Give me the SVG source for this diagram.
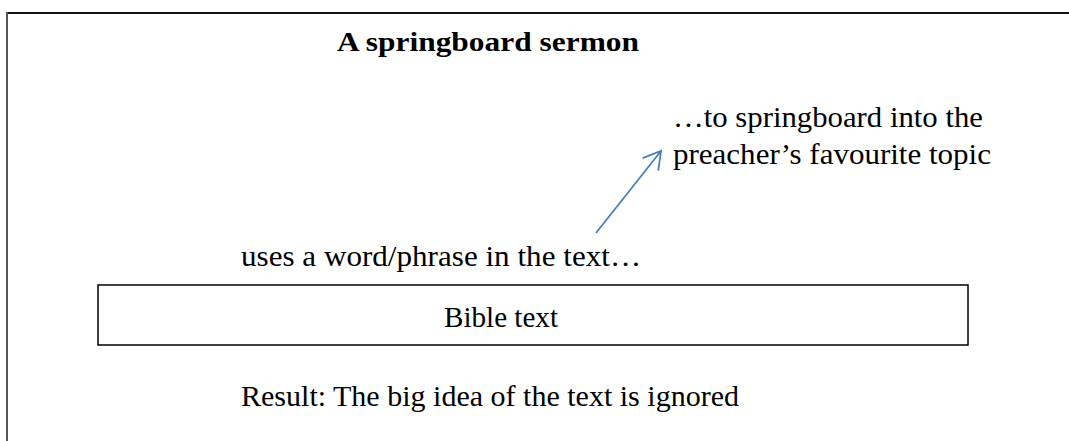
<svg xmlns="http://www.w3.org/2000/svg" width="1069" height="441" viewBox="0 0 1069 441">
<defs>
<style>
.t{font-family:"Liberation Serif","Times New Roman",serif;font-size:29px;fill:#000}
.b{font-weight:bold;font-size:27px}
</style>
<marker id="ah" viewBox="0 0 20 22" refX="18" refY="11" markerWidth="20" markerHeight="22" markerUnits="userSpaceOnUse" orient="auto">
<path d="M1,1 L18,11 L1,21" fill="none" stroke="#4a7ebb" stroke-width="1.8"/>
</marker>
</defs>
<rect width="1069" height="441" fill="#fff"/>
<g id="frame">
<line x1="7" y1="13" x2="1069" y2="13" stroke="#111" stroke-width="2"/>
<line x1="7" y1="12" x2="7" y2="441" stroke="#555" stroke-width="2"/>
</g>
<g id="title">
<text class="t b" x="337" y="51" textLength="302" lengthAdjust="spacingAndGlyphs">A springboard sermon</text>
</g>
<g id="target">
<text class="t" x="673" y="127" textLength="310" lengthAdjust="spacingAndGlyphs">…to springboard into the</text>
<text class="t" x="673" y="164" textLength="318" lengthAdjust="spacingAndGlyphs">preacher’s favourite topic</text>
</g>
<g id="source">
<text class="t" x="241" y="266" textLength="400" lengthAdjust="spacingAndGlyphs">uses a word/phrase in the text…</text>
</g>
<g id="bible">
<rect x="98" y="285" width="870" height="60" fill="#fff" stroke="#000" stroke-width="1.5"/>
<text class="t" x="444" y="327" textLength="114" lengthAdjust="spacingAndGlyphs">Bible text</text>
</g>
<g id="result">
<text class="t" x="241" y="406" textLength="498" lengthAdjust="spacingAndGlyphs">Result: The big idea of the text is ignored</text>
</g>
<g id="connectors">
<line x1="596" y1="233" x2="661" y2="151" stroke="#4a7ebb" stroke-width="1.8" marker-end="url(#ah)"/>
</g>
</svg>
